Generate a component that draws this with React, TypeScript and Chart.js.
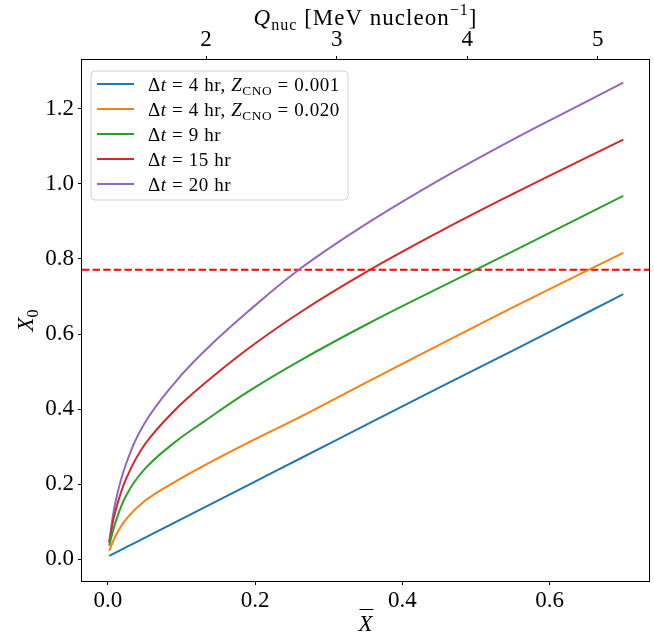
import React, { useEffect, useRef } from "react";
import { Chart, registerables } from "chart.js";

Chart.register(...registerables);

// Mean hydrogen fraction (bottom axis) at which each curve was sampled
const xBar = [0.002, 0.01, 0.025, 0.05, 0.09, 0.13, 0.19, 0.26, 0.35, 0.45, 0.55, 0.65, 0.7];

// Accreted hydrogen fraction X_0 for each recurrence time
const x0Dt4Z001 = [0.009, 0.017, 0.032, 0.057, 0.097, 0.137, 0.197, 0.267, 0.357, 0.457, 0.556, 0.656, 0.706];
const x0Dt4Z020 = [0.022, 0.06, 0.107, 0.155, 0.205, 0.249, 0.31, 0.378, 0.47, 0.571, 0.671, 0.768, 0.816];
const x0Dt9 = [0.036, 0.095, 0.17, 0.24, 0.31, 0.366, 0.446, 0.528, 0.624, 0.723, 0.82, 0.919, 0.968];
const x0Dt15 = [0.044, 0.125, 0.215, 0.305, 0.395, 0.466, 0.56, 0.656, 0.764, 0.872, 0.973, 1.07, 1.118];
const x0Dt20 = [0.045, 0.148, 0.255, 0.362, 0.468, 0.552, 0.659, 0.772, 0.892, 1.01, 1.118, 1.219, 1.27];

// Horizontal reference level of X_0
const x0Reference = 0.771;

// Tick values
const xTicks = [0, 0.2, 0.4, 0.6];
const yTicks = [0, 0.2, 0.4, 0.6, 0.8, 1.0, 1.2];
const qTicks = [2, 3, 4, 5];

// Q_nuc is linear in mean X: Q = Q_AT_ZERO + Q_PER_X * X
const Q_AT_ZERO = 1.247;
const Q_PER_X = 5.64;

const X_MIN = -0.035;
const X_MAX = 0.735;
const Y_MIN = -0.058;
const Y_MAX = 1.33;

const FONT = '"Liberation Serif", "DejaVu Serif", serif';
const TICK_SIZE = 23;
const TITLE_SIZE = 23;
const LEGEND_SIZE = 19;

type Seg = { t: string; it?: boolean; sub?: boolean; sup?: boolean };

const series: { data: number[]; color: string; label: Seg[] }[] = [
  {
    data: x0Dt4Z001,
    color: "#1f77b4",
    label: [
      { t: "Δ" }, { t: "t", it: true }, { t: " = 4 hr, " },
      { t: "Z", it: true }, { t: "CNO", sub: true }, { t: " = 0.001" },
    ],
  },
  {
    data: x0Dt4Z020,
    color: "#ff7f0e",
    label: [
      { t: "Δ" }, { t: "t", it: true }, { t: " = 4 hr, " },
      { t: "Z", it: true }, { t: "CNO", sub: true }, { t: " = 0.020" },
    ],
  },
  { data: x0Dt9, color: "#2ca02c", label: [{ t: "Δ" }, { t: "t", it: true }, { t: " = 9 hr" }] },
  { data: x0Dt15, color: "#d62728", label: [{ t: "Δ" }, { t: "t", it: true }, { t: " = 15 hr" }] },
  { data: x0Dt20, color: "#9467bd", label: [{ t: "Δ" }, { t: "t", it: true }, { t: " = 20 hr" }] },
];

function segSize(base: number, s: Seg) {
  return s.sub || s.sup ? base * 0.7 : base;
}

function setFont(ctx: CanvasRenderingContext2D, size: number, italic?: boolean) {
  ctx.font = `${italic ? "italic " : ""}${size}px ${FONT}`;
}

function measureRich(ctx: CanvasRenderingContext2D, segs: Seg[], base: number) {
  let w = 0;
  for (const s of segs) {
    setFont(ctx, segSize(base, s), s.it);
    w += ctx.measureText(s.t).width;
  }
  return w;
}

function drawRich(ctx: CanvasRenderingContext2D, segs: Seg[], x: number, y: number, base: number) {
  ctx.textAlign = "left";
  ctx.textBaseline = "alphabetic";
  let cx = x;
  for (const s of segs) {
    const size = segSize(base, s);
    setFont(ctx, size, s.it);
    const dy = s.sub ? base * 0.22 : s.sup ? -base * 0.42 : 0;
    ctx.fillText(s.t, cx, y + dy);
    cx += ctx.measureText(s.t).width;
  }
  return cx;
}

function setSpacing(ctx: CanvasRenderingContext2D, px: number) {
  (ctx as any).letterSpacing = `${px}px`;
}

const decorations = {
  id: "decorations",
  afterDatasetsDraw(chart: Chart) {
    const ctx = chart.ctx;
    // legend box
    const bx = 91, by = 71, bw = 257, bh = 129, r = 4;
    ctx.save();
    ctx.beginPath();
    ctx.moveTo(bx + r, by);
    ctx.arcTo(bx + bw, by, bx + bw, by + bh, r);
    ctx.arcTo(bx + bw, by + bh, bx, by + bh, r);
    ctx.arcTo(bx, by + bh, bx, by, r);
    ctx.arcTo(bx, by, bx + bw, by, r);
    ctx.closePath();
    ctx.fillStyle = "rgba(255,255,255,0.8)";
    ctx.fill();
    ctx.strokeStyle = "#d0d0d0";
    ctx.lineWidth = 1;
    ctx.stroke();
    setSpacing(ctx, 0.6);
    series.forEach((s, i) => {
      const rowY = 84 + i * 25;
      ctx.strokeStyle = s.color;
      ctx.lineWidth = 2;
      ctx.beginPath();
      ctx.moveTo(97, rowY);
      ctx.lineTo(134, rowY);
      ctx.stroke();
      ctx.fillStyle = "#000";
      drawRich(ctx, s.label, 148, rowY + 6.5, LEGEND_SIZE);
    });
    setSpacing(ctx, 0);
    ctx.restore();
  },
  afterDraw(chart: Chart) {
    const ctx = chart.ctx;
    const a = chart.chartArea;
    ctx.save();
    // frame
    ctx.strokeStyle = "#000";
    ctx.lineWidth = 1;
    ctx.strokeRect(Math.round(a.left) - 0.5, Math.round(a.top) - 0.5, Math.round(a.right - a.left) + 1, Math.round(a.bottom - a.top) + 1);
    ctx.fillStyle = "#000";
    const cx = (a.left + a.right) / 2;

    // top axis title
    const topTitle: Seg[] = [
      { t: "Q", it: true }, { t: "nuc", sub: true }, { t: " [MeV nucleon" }, { t: "−1", sup: true }, { t: "]" },
    ];
    setSpacing(ctx, 1);
    const tw = measureRich(ctx, topTitle, TITLE_SIZE);
    drawRich(ctx, topTitle, cx - tw / 2, 25, TITLE_SIZE);
    setSpacing(ctx, 0);

    // bottom axis title: X with overline
    setFont(ctx, TITLE_SIZE, true);
    const xw = ctx.measureText("X").width;
    const bxl = cx - xw / 2;
    drawRich(ctx, [{ t: "X", it: true }], bxl, 631, TITLE_SIZE);
    ctx.beginPath();
    ctx.moveTo(bxl + 1, 609.5);
    ctx.lineTo(bxl + xw + 1, 609.5);
    ctx.stroke();

    // left axis title
    const yTitle: Seg[] = [{ t: "X", it: true }, { t: "0", sub: true }];
    const yw = measureRich(ctx, yTitle, TITLE_SIZE);
    ctx.translate(33, (a.top + a.bottom) / 2);
    ctx.rotate(-Math.PI / 2);
    drawRich(ctx, yTitle, -yw / 2, 0, TITLE_SIZE);
    ctx.restore();
  },
};

export default function App() {
  const ref = useRef<HTMLCanvasElement | null>(null);

  useEffect(() => {
    if (!ref.current) return;
    const tickFont = { family: FONT, size: TICK_SIZE };
    const datasets: any[] = series.map((s) => ({
      data: xBar.map((x, i) => ({ x, y: s.data[i] })),
      borderColor: s.color,
      backgroundColor: s.color,
      borderWidth: 2,
      pointRadius: 0,
      tension: 0.4,
      xAxisID: "x",
      yAxisID: "y",
    }));
    datasets.push({
      data: [
        { x: X_MIN, y: x0Reference },
        { x: X_MAX, y: x0Reference },
      ],
      borderColor: "#ff0000",
      borderWidth: 2,
      borderDash: [7.4, 3.2],
      pointRadius: 0,
      xAxisID: "x",
      yAxisID: "y",
    });

    const chart = new Chart(ref.current, {
      type: "line",
      data: { datasets },
      options: {
        animation: false,
        responsive: false,
        layout: { padding: { left: 0, right: 5, top: 0, bottom: 0 } },
        plugins: { legend: { display: false }, tooltip: { enabled: false } },
        scales: {
          x: {
            type: "linear",
            position: "bottom",
            min: X_MIN,
            max: X_MAX,
            afterBuildTicks: (sc: any) => {
              sc.ticks = xTicks.map((v) => ({ value: v }));
            },
            afterFit: (sc: any) => {
              sc.height = 56;
            },
            ticks: { font: tickFont, color: "#000", padding: 2, callback: (v: any) => Number(v).toFixed(1), maxRotation: 0, autoSkip: false },
            grid: { drawOnChartArea: false, tickLength: 4, color: "#000" },
            border: { display: false },
          },
          x2: {
            type: "linear",
            position: "top",
            min: Q_AT_ZERO + Q_PER_X * X_MIN,
            max: Q_AT_ZERO + Q_PER_X * X_MAX,
            afterBuildTicks: (sc: any) => {
              sc.ticks = qTicks.map((v) => ({ value: v }));
            },
            afterFit: (sc: any) => {
              sc.height = 60;
            },
            ticks: { font: tickFont, color: "#000", padding: 2, callback: (v: any) => String(v), maxRotation: 0, autoSkip: false },
            grid: { drawOnChartArea: false, tickLength: 4, color: "#000" },
            border: { display: false },
          },
          y: {
            type: "linear",
            position: "left",
            min: Y_MIN,
            max: Y_MAX,
            afterBuildTicks: (sc: any) => {
              sc.ticks = yTicks.map((v) => ({ value: v }));
            },
            afterFit: (sc: any) => {
              sc.width = 82;
            },
            ticks: { font: tickFont, color: "#000", padding: 4, callback: (v: any) => Number(v).toFixed(1), autoSkip: false },
            grid: { drawOnChartArea: false, tickLength: 4, color: "#000" },
            border: { display: false },
          },
        },
      },
      plugins: [decorations],
    });
    return () => chart.destroy();
  }, []);

  return (
    <div style={{ position: "fixed", left: 0, top: 0, width: 654, height: 637, background: "#fff" }}>
      <canvas ref={ref} width={654} height={637} style={{ display: "block" }} />
    </div>
  );
}
